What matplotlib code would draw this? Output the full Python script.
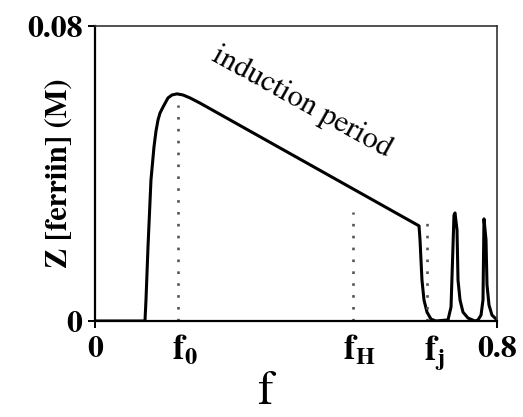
import matplotlib
matplotlib.use("Agg")
import matplotlib.pyplot as plt
import matplotlib.transforms as mtransforms

plt.rcParams["font.family"] = ["STIXGeneral", "DejaVu Serif"]
plt.rcParams["mathtext.fontset"] = "stix"

f_vals = [0.0, 0.0995, 0.1015, 0.1055, 0.1114, 0.1174, 0.1214, 0.1254, 0.1294,
          0.1353, 0.1453, 0.1532, 0.1632, 0.1751, 0.1891, 0.2090, 0.6448,
          0.6468, 0.6488, 0.6507, 0.6547, 0.6607, 0.6687, 0.6786, 0.7025,
          0.7085, 0.7144, 0.7164, 0.7204, 0.7224, 0.7264, 0.7323, 0.7423,
          0.7562, 0.7622, 0.7682, 0.7721, 0.7741, 0.7781, 0.7801, 0.7841,
          0.7900, 0.8000]
z_vals = [0.0, 0.0, 0.0057, 0.0201, 0.0382, 0.0472, 0.0515, 0.0545, 0.0564,
          0.0580, 0.0605, 0.0613, 0.0616, 0.0613, 0.0605, 0.0591, 0.0258,
          0.0220, 0.0163, 0.0111, 0.0057, 0.0024, 0.0005, 0.0, 0.0003,
          0.0038, 0.0287, 0.0293, 0.0247, 0.0111, 0.0057, 0.0024, 0.0008,
          0.0, 0.0003, 0.0016, 0.0057, 0.0277, 0.0220, 0.0098, 0.0043,
          0.0016, 0.0003]

# characteristic points on the f axis and the height of their marker lines
mark_names = [r"$\mathbf{f_0}$", r"$\mathbf{f_H}$", r"$\mathbf{f_j}$"]
mark_f = [0.165, 0.513, 0.661]
mark_top = [0.0586, 0.0296, 0.0266]

fig = plt.figure(figsize=(5.23, 4.17), dpi=100)
ax = fig.add_axes([0.1816, 0.2302, 0.7687, 0.7074])

ax.plot(f_vals, z_vals, color="black", lw=2.2, solid_joinstyle="round")
for x, top in zip(mark_f, mark_top):
    ax.plot([x, x], [0, top], color="#555555", lw=1.9,
            linestyle=(0, (1, 3.5)), dash_capstyle="butt")

ax.set_xlim(0, 0.8)
ax.set_ylim(0, 0.08)

for side in ["left", "bottom"]:
    ax.spines[side].set_linewidth(1.6)
for side in ["top", "right"]:
    ax.spines[side].set_linewidth(1.2)
    ax.spines[side].set_color("#333333")

ax.set_yticks([0, 0.08])
ax.set_yticklabels(["0", "0.08"], fontsize=23, fontweight="bold")
ax.set_xticks([0, 0.8])
ax.set_xticklabels(["0", "0.8"], fontsize=23, fontweight="bold")
ax.set_xticks(mark_f, minor=True)
ax.set_xticklabels(mark_names, minor=True, fontsize=25)
ax.tick_params(axis="both", which="major", direction="out", length=5,
               width=1.4)
ax.tick_params(axis="x", which="major", pad=6)
ax.tick_params(axis="y", which="major", pad=4)
ax.tick_params(axis="x", which="minor", length=0, pad=9)

# nudge the subscripted labels so the "f" sits on the marker line
shift = mtransforms.ScaledTranslation(5 / 72, 0, fig.dpi_scale_trans)
for lbl in ax.xaxis.get_minorticklabels():
    lbl.set_transform(lbl.get_transform() + shift)

fig.text(0.113, 0.585, "Z [ferriin] (M)", fontsize=22, fontweight="bold",
         rotation=90, ha="center", va="center")
fig.text(0.507, 0.058, "f", fontsize=34, ha="center", va="center")

ax.text(0.412, 0.0592, "induction period", fontsize=22, rotation=-29,
        rotation_mode="anchor", ha="center", va="center")

fig.savefig("out.png", dpi=100)
